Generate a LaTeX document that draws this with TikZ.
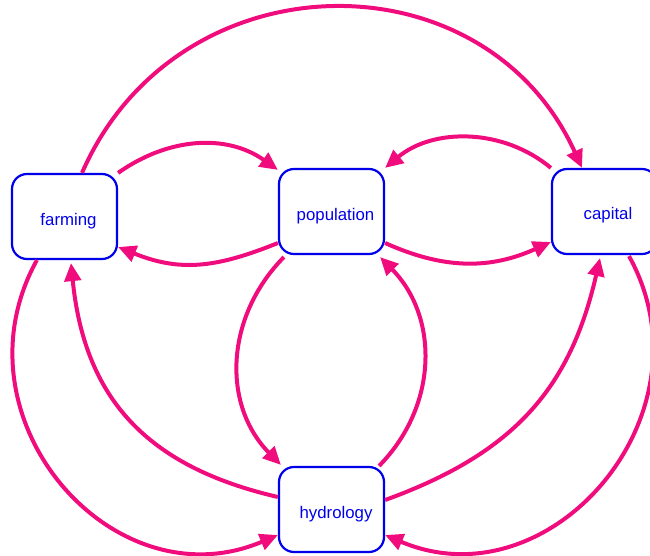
\documentclass[tikz,border=0pt]{standalone}
\usepackage{fontspec}
\setmainfont{Liberation Sans}
\usetikzlibrary{arrows.meta,calc}
\definecolor{edgecol}{RGB}{240,12,125}
\definecolor{boxcol}{RGB}{0,0,235}
\begin{document}
\begin{tikzpicture}[x=1pt,y=-1pt,
  box/.style={draw=boxcol, line width=2.2pt, rounded corners=15pt, minimum width=105pt, minimum height=85pt, inner sep=0pt, fill=white},
  lbl/.style={text=boxcol, font=\fontsize{16.8}{20}\selectfont, anchor=base, inner sep=0pt},
  link/.style={draw=edgecol, line width=4pt, -{Triangle[length=18pt,width=16.5pt]}}]
\useasboundingbox (0,0) rectangle (650,556);
\clip (0,0) rectangle (650,556);
\node[box] (farming) at (64.5,216.5) {};
\node[box] (population) at (331.5,211.5) {};
\node[box] (capital) at (604.5,211.5) {};
\node[box] (hydrology) at (331.5,509.5) {};
\node[lbl] (farmingL) at ($(farming.center)+(4,8.5)$) {farming};
\node[lbl] (populationL) at ($(population.center)+(4,8.5)$) {population};
\node[lbl] (capitalL) at ($(capital.center)+(3.5,8)$) {capital};
\node[lbl] (hydrologyL) at ($(hydrology.center)+(4.5,9)$) {hydrology};
% farming <-> population
\draw[link] (farming.north east) .. controls +(51,-36) and +(-51,-36) .. ($(population.north west)+(0,2)$);
\draw[link] ($(population.west)+(0,31.5)$) .. controls +(-62,25) and +(62,25) .. ($(farming.east)+(0,30.5)$);
% capital <-> population
\draw[link] (capital.north west) .. controls +(-48,-40) and +(48,-40) .. (population.north east);
\draw[link] ($(population.east)+(0,31.5)$) .. controls +(60,27) and +(-60,27) .. ($(capital.west)+(0,30.5)$);
% population <-> hydrology
\draw[link] ($(population.south west)+(6,2)$) .. controls +(-59,60) and +(-59,-60) .. ($(hydrology.north west)+(3,-1)$);
\draw[link] ($(hydrology.north east)+(-6,0)$) .. controls +(59,-60) and +(59,60) .. ($(population.south east)+(-5,2)$);
% farming <-> hydrology
\draw[link] ($(farming.south west)+(26,0)$) .. controls +(-87.3,157.5) and +(-165.6,70.2) .. ($(hydrology.west)+(0,25.5)$);
\draw[link] ($(hydrology.west)+(0,-12.5)$) .. controls +(-131.5,-30.4) and +(13.5,135) .. ($(farming.south)+(6.5,3)$);
% hydrology <-> capital
\draw[link] ($(hydrology.east)+(0,-9.5)$) .. controls +(127,-46) and +(-30,132) .. ($(capital.south)+(-4.5,3)$);
\draw[link] ($(capital.south)+(24.5,1)$) .. controls +(87.3,157.5) and +(165.6,70.2) .. ($(hydrology.east)+(0,25.5)$);
% farming -> capital
\draw[link] ($(farming.north)+(17.5,0)$) .. controls +(95,-217) and +(-98,-216) .. ($(capital.north)+(-22.5,0)$);
\end{tikzpicture}
\end{document}
